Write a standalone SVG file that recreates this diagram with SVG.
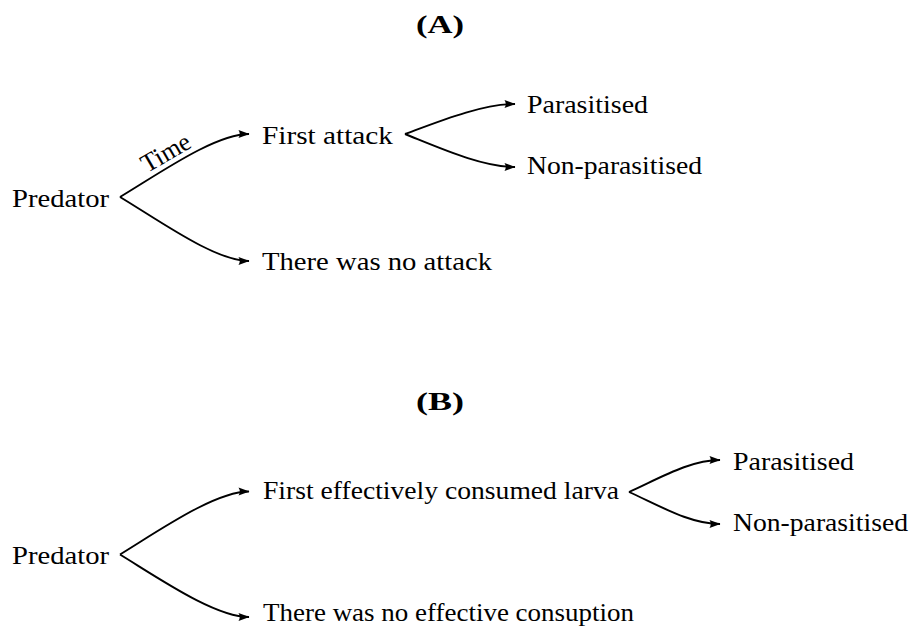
<svg xmlns="http://www.w3.org/2000/svg" width="911" height="627" viewBox="0 0 911 627">
<style>
  text { font-family: "Liberation Serif", "Times New Roman", serif; fill: #000; }
  .lbl { font-size: 26px; }
  .title { font-size: 25px; font-weight: bold; text-anchor: middle; }
  .edge { fill: none; stroke: #000; stroke-width: 1.9; marker-end: url(#arrow); }
</style>
<defs>
  <marker id="arrow" markerUnits="userSpaceOnUse" viewBox="-12 -5 13 10" markerWidth="13" markerHeight="10" refX="0" refY="0" orient="auto">
    <path d="M0.5,0 L-10.5,-4 Q-8,0 -10.5,4 Z" fill="#000"/>
  </marker>
</defs>
<rect width="911" height="627" fill="#fff"/>

<g id="titleA"><text class="title" x="440" y="33" textLength="48" lengthAdjust="spacingAndGlyphs">(A)</text></g>
<g id="titleB"><text class="title" x="440" y="410" textLength="48" lengthAdjust="spacingAndGlyphs">(B)</text></g>

<g id="connectors">
  <path class="edge" d="M120,197 C160,173 215,134 249,134"/>
  <path class="edge" d="M120,197 C160,221 215,261 249,261"/>
  <path class="edge" d="M405,134 C440,121 482,104 515,104"/>
  <path class="edge" d="M405,134 C440,148 482,167 515,167"/>
  <path class="edge" d="M120,554.5 C160,530 215,491.5 249,491.5"/>
  <path class="edge" d="M120,554.5 C160,579 215,617 249,617"/>
  <path class="edge" d="M629,492 C660,478 690,460 720,460"/>
  <path class="edge" d="M629,492 C660,506 690,524 720,524"/>
  <text class="lbl" x="170" y="160" text-anchor="middle" transform="rotate(-30 170 160)" textLength="53" lengthAdjust="spacingAndGlyphs">Time</text>
</g>

<g id="predatorA"><text class="lbl" x="12" y="207" textLength="97" lengthAdjust="spacingAndGlyphs">Predator</text></g>
<g id="firstAttack"><text class="lbl" x="262" y="144" textLength="131" lengthAdjust="spacingAndGlyphs">First attack</text></g>
<g id="noAttack"><text class="lbl" x="262" y="270" textLength="230" lengthAdjust="spacingAndGlyphs">There was no attack</text></g>
<g id="parasitisedA"><text class="lbl" x="527" y="113" textLength="121" lengthAdjust="spacingAndGlyphs">Parasitised</text></g>
<g id="nonParasitisedA"><text class="lbl" x="527" y="174" textLength="175" lengthAdjust="spacingAndGlyphs">Non-parasitised</text></g>

<g id="predatorB"><text class="lbl" x="12" y="564" textLength="97" lengthAdjust="spacingAndGlyphs">Predator</text></g>
<g id="firstConsumed"><text class="lbl" x="263" y="499" textLength="356" lengthAdjust="spacingAndGlyphs">First effectively consumed larva</text></g>
<g id="noConsumption"><text class="lbl" x="263" y="621" textLength="371" lengthAdjust="spacingAndGlyphs">There was no effective consuption</text></g>
<g id="parasitisedB"><text class="lbl" x="733" y="470" textLength="121" lengthAdjust="spacingAndGlyphs">Parasitised</text></g>
<g id="nonParasitisedB"><text class="lbl" x="733" y="531" textLength="175" lengthAdjust="spacingAndGlyphs">Non-parasitised</text></g>
</svg>
